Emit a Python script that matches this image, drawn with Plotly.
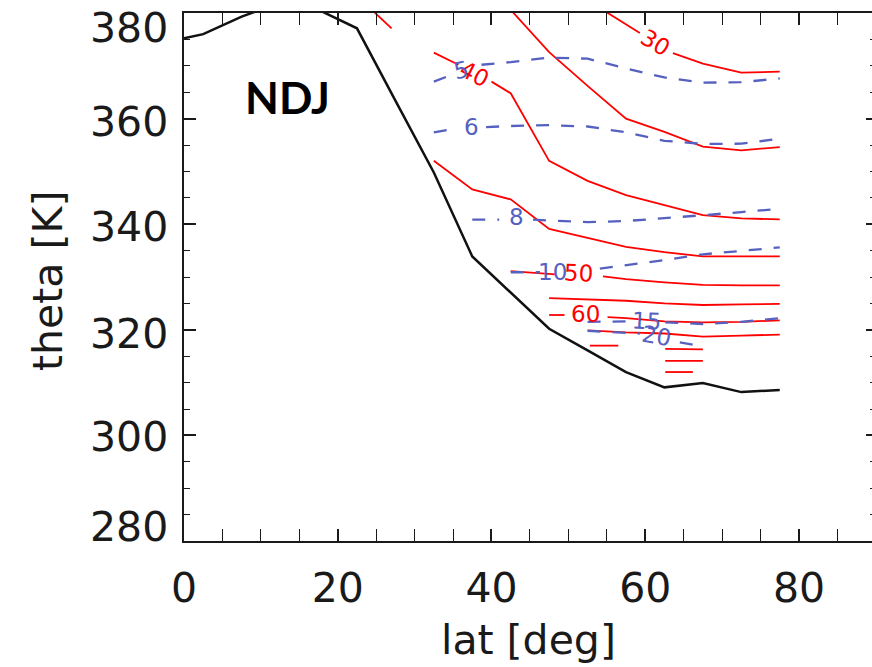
import plotly.graph_objects as go

# ---------------- data ----------------
trop_lat = [0, 2.5, 7.5, 12.5, 17.5, 22.5, 27.5, 32.5, 37.5, 42.5, 47.5, 52.5, 57.5, 62.5, 67.5, 72.5, 77.5]
trop_theta = [375.2, 376.0, 379.3, 382.0, 380.6, 377.1, 363.4, 349.8, 333.9, 327.0, 320.2, 316.1, 312.0, 309.1, 309.9, 308.2, 308.6]

red25_lat = [24.5, 27.0]
red25_theta = [380.5, 377.1]
red30_lat = [52.5, 57.5, 59.3, None, 63.6, 67.5, 72.5, 77.5]
red30_theta = [382.4, 377.9, 376.2, None, 372.4, 370.4, 368.7, 368.9]
red35_lat = [37.5, 42.5, 47.5, 52.5, 57.5, 62.5, 67.5, 72.5, 77.5]
red35_theta = [388.6, 380.6, 372.6, 366.2, 360.0, 357.5, 354.7, 354.0, 354.6]
red40_lat = [32.5, 35.7, None, 40.0, 42.5, 47.5, 52.5, 57.5, 62.5, 67.5, 72.5, 77.5]
red40_theta = [372.5, 370.2, None, 367.0, 364.8, 352.0, 348.2, 345.5, 343.6, 341.7, 341.1, 340.9]
red45_lat = [32.5, 37.5, 42.5, 47.5, 52.5, 57.5, 62.5, 67.5, 72.5, 77.5]
red45_theta = [352.0, 346.6, 344.7, 339.1, 337.4, 335.7, 334.7, 333.9, 333.9, 333.9]
red50_lat = [42.5, 47.5, 48.3, None, 54.5, 57.5, 62.5, 67.5, 72.5, 77.5]
red50_theta = [331.1, 330.6, 330.5, None, 330.1, 329.6, 329.0, 328.5, 328.4, 328.4]
red55_lat = [47.5, 52.5, 57.5, 62.5, 67.5, 72.5, 77.5]
red55_theta = [326.0, 325.8, 325.5, 325.0, 324.7, 324.8, 324.9]
red60_lat = [47.5, 49.5, None, 55.1, 57.5, 62.5, 67.5, 72.5, 77.5]
red60_theta = [322.8, 322.8, None, 322.4, 322.2, 321.6, 321.4, 321.5, 321.8]
red65_lat = [52.5, 57.5, 62.5, 67.5, 72.5, 77.5]
red65_theta = [319.9, 319.5, 319.3, 318.7, 318.9, 319.1]
red70_lat = [52.8, 56.5, None, 62.6, 67.5]
red70_theta = [317.0, 317.0, None, 316.4, 316.3]
red75_lat = [62.6, 67.5]
red75_theta = [314.1, 314.1]
red80_lat = [62.6, 66.2]
red80_theta = [312.0, 312.0]

blue5_lat = [32.5, 34.1, None, 38.7, 42.5, 47.5, 52.5, 57.5, 62.5, 67.5, 72.5, 77.5]
blue5_theta = [367.0, 367.9, None, 370.2, 370.7, 371.55, 371.35, 369.5, 367.8, 366.8, 366.9, 367.6]
blue6_lat = [32.5, 34.5, None, 39.3, 42.5, 47.5, 52.5, 57.5, 62.5, 67.5, 72.5, 77.5]
blue6_theta = [357.4, 357.9, None, 358.4, 358.6, 358.75, 358.5, 357.4, 355.8, 355.2, 355.25, 356.2]
blue8_lat = [37.5, 41.0, None, 45.4, 47.5, 52.5, 57.5, 62.5, 67.5, 72.5, 77.5]
blue8_theta = [340.85, 340.85, None, 340.85, 340.7, 340.4, 340.6, 341.1, 341.7, 342.3, 342.9]
blue10_lat = [42.5, 46.3, None, 54.1, 57.5, 62.5, 67.5, 72.5, 77.5]
blue10_theta = [330.9, 330.9, None, 331.6, 332.2, 333.2, 334.3, 334.9, 335.6]
blue15_lat = [52.5, 57.7, None, 62.6, 67.5, 72.5, 77.5]
blue15_theta = [321.5, 321.6, None, 321.4, 321.1, 321.5, 322.2]
blue20_lat = [52.5, 57.5, 59.3, None, 64.5, 66.2]
blue20_theta = [319.8, 319.5, 319.3, None, 317.6, 317.2]

red_label_text = ["30", "40", "50", "60"]
red_label_lat = [61.4, 37.8, 51.3, 52.2]
red_label_theta = [374.4, 368.5, 330.75, 323.0]
blue_label_text = ["5", "6", "8", "10", "15", "20"]
blue_label_lat = [36.1, 37.4, 43.3, 47.9, 60.1, 61.5]
blue_label_theta = [369.2, 358.4, 341.35, 331.0, 321.7, 318.9]

ytick_values = [380, 360, 340, 320, 300, 280]
xtick_values = [0, 20, 40, 60, 80]

# ---------------- styles ----------------
RED = "#ff0000"
BLUE = "#5560c0"
INK = "#1a1a1a"
FONT = "DejaVu Sans"
red_label_angle = [31, 27, 3, 0]
blue_label_angle = [-12, 0, 0, 0, 3, 10]
ytick_shift = [-15, -3, -3, -4, -2, 14]

fig = go.Figure()

fig.add_trace(go.Scatter(x=trop_lat, y=trop_theta, mode="lines",
                         line=dict(color="#111111", width=2.5), showlegend=False, hoverinfo="skip"))

red_sets = [(red25_lat, red25_theta), (red30_lat, red30_theta), (red35_lat, red35_theta),
            (red40_lat, red40_theta), (red45_lat, red45_theta), (red50_lat, red50_theta),
            (red55_lat, red55_theta), (red60_lat, red60_theta), (red65_lat, red65_theta),
            (red70_lat, red70_theta), (red75_lat, red75_theta), (red80_lat, red80_theta)]
for lx, ly in red_sets:
    fig.add_trace(go.Scatter(x=lx, y=ly, mode="lines", connectgaps=False,
                             line=dict(color=RED, width=1.8), showlegend=False, hoverinfo="skip"))

blue_sets = [(blue5_lat, blue5_theta), (blue6_lat, blue6_theta), (blue8_lat, blue8_theta),
             (blue10_lat, blue10_theta), (blue15_lat, blue15_theta), (blue20_lat, blue20_theta)]
for lx, ly in blue_sets:
    fig.add_trace(go.Scatter(x=lx, y=ly, mode="lines", connectgaps=False,
                             line=dict(color=BLUE, width=2.3, dash="13px,12px"),
                             showlegend=False, hoverinfo="skip"))

# invisible trace for right-hand tick axis
fig.add_trace(go.Scatter(x=[], y=[], yaxis="y2", showlegend=False, hoverinfo="skip"))

for t, lx, ly, a in zip(red_label_text, red_label_lat, red_label_theta, red_label_angle):
    fig.add_annotation(x=lx, y=ly, text=t, showarrow=False, textangle=a,
                       font=dict(family=FONT, size=23, color=RED))
for t, lx, ly, a in zip(blue_label_text, blue_label_lat, blue_label_theta, blue_label_angle):
    fig.add_annotation(x=lx, y=ly, text=t, showarrow=False, textangle=a,
                       font=dict(family=FONT, size=23, color=BLUE))

for v, s in zip(ytick_values, ytick_shift):
    fig.add_annotation(xref="paper", x=0, y=v, text=str(v), showarrow=False,
                       xanchor="right", xshift=-14, yshift=s,
                       font=dict(family=FONT, size=41, color=INK))

fig.add_annotation(xref="paper", yref="paper", x=0.5, y=0, yanchor="middle", yshift=-99,
                   text="lat [deg]", showarrow=False, font=dict(family=FONT, size=41, color=INK))
fig.add_annotation(xref="paper", yref="paper", x=0, y=0.5, xshift=-162, yshift=-4,
                   text="theta [K]", textangle=-90, showarrow=False,
                   font=dict(family=FONT, size=41, color=INK))
fig.add_annotation(x=13.4, y=364.0, text="<b>NDJ</b>", showarrow=False,
                   font=dict(family="Lato", size=44, color="#000000"))

fig.update_layout(
    width=872, height=667,
    margin=dict(l=184, r=0, t=13, b=126),
    paper_bgcolor="white", plot_bgcolor="white",
    xaxis=dict(range=[0, 89.5], tickvals=xtick_values, ticks="inside", ticklen=12, tickwidth=1.6,
               tickcolor=INK, showline=True, linewidth=2, linecolor=INK, mirror="allticks",
               showgrid=False, zeroline=False, ticklabelstandoff=10,
               tickfont=dict(family=FONT, size=41, color=INK),
               minor=dict(dtick=5, tick0=0, ticks="inside", ticklen=6, tickwidth=1.4, tickcolor=INK)),
    yaxis=dict(range=[280, 380], dtick=20, tick0=280, ticks="inside", ticklen=12, tickwidth=1.6,
               tickcolor=INK, showline=True, linewidth=2, linecolor=INK, mirror=False,
               showgrid=False, zeroline=False, showticklabels=False,
               minor=dict(dtick=5, tick0=280, ticks="inside", ticklen=6, tickwidth=1.4, tickcolor=INK)),
    yaxis2=dict(range=[280, 380], overlaying="y", side="right", dtick=20, tick0=280,
                ticks="inside", ticklen=6, tickwidth=1.6, tickcolor=INK, showline=False,
                showgrid=False, zeroline=False, showticklabels=False,
                minor=dict(dtick=5, tick0=280, ticks="inside", ticklen=2, tickwidth=1.4, tickcolor=INK)),
)

fig.write_html("out.html")
